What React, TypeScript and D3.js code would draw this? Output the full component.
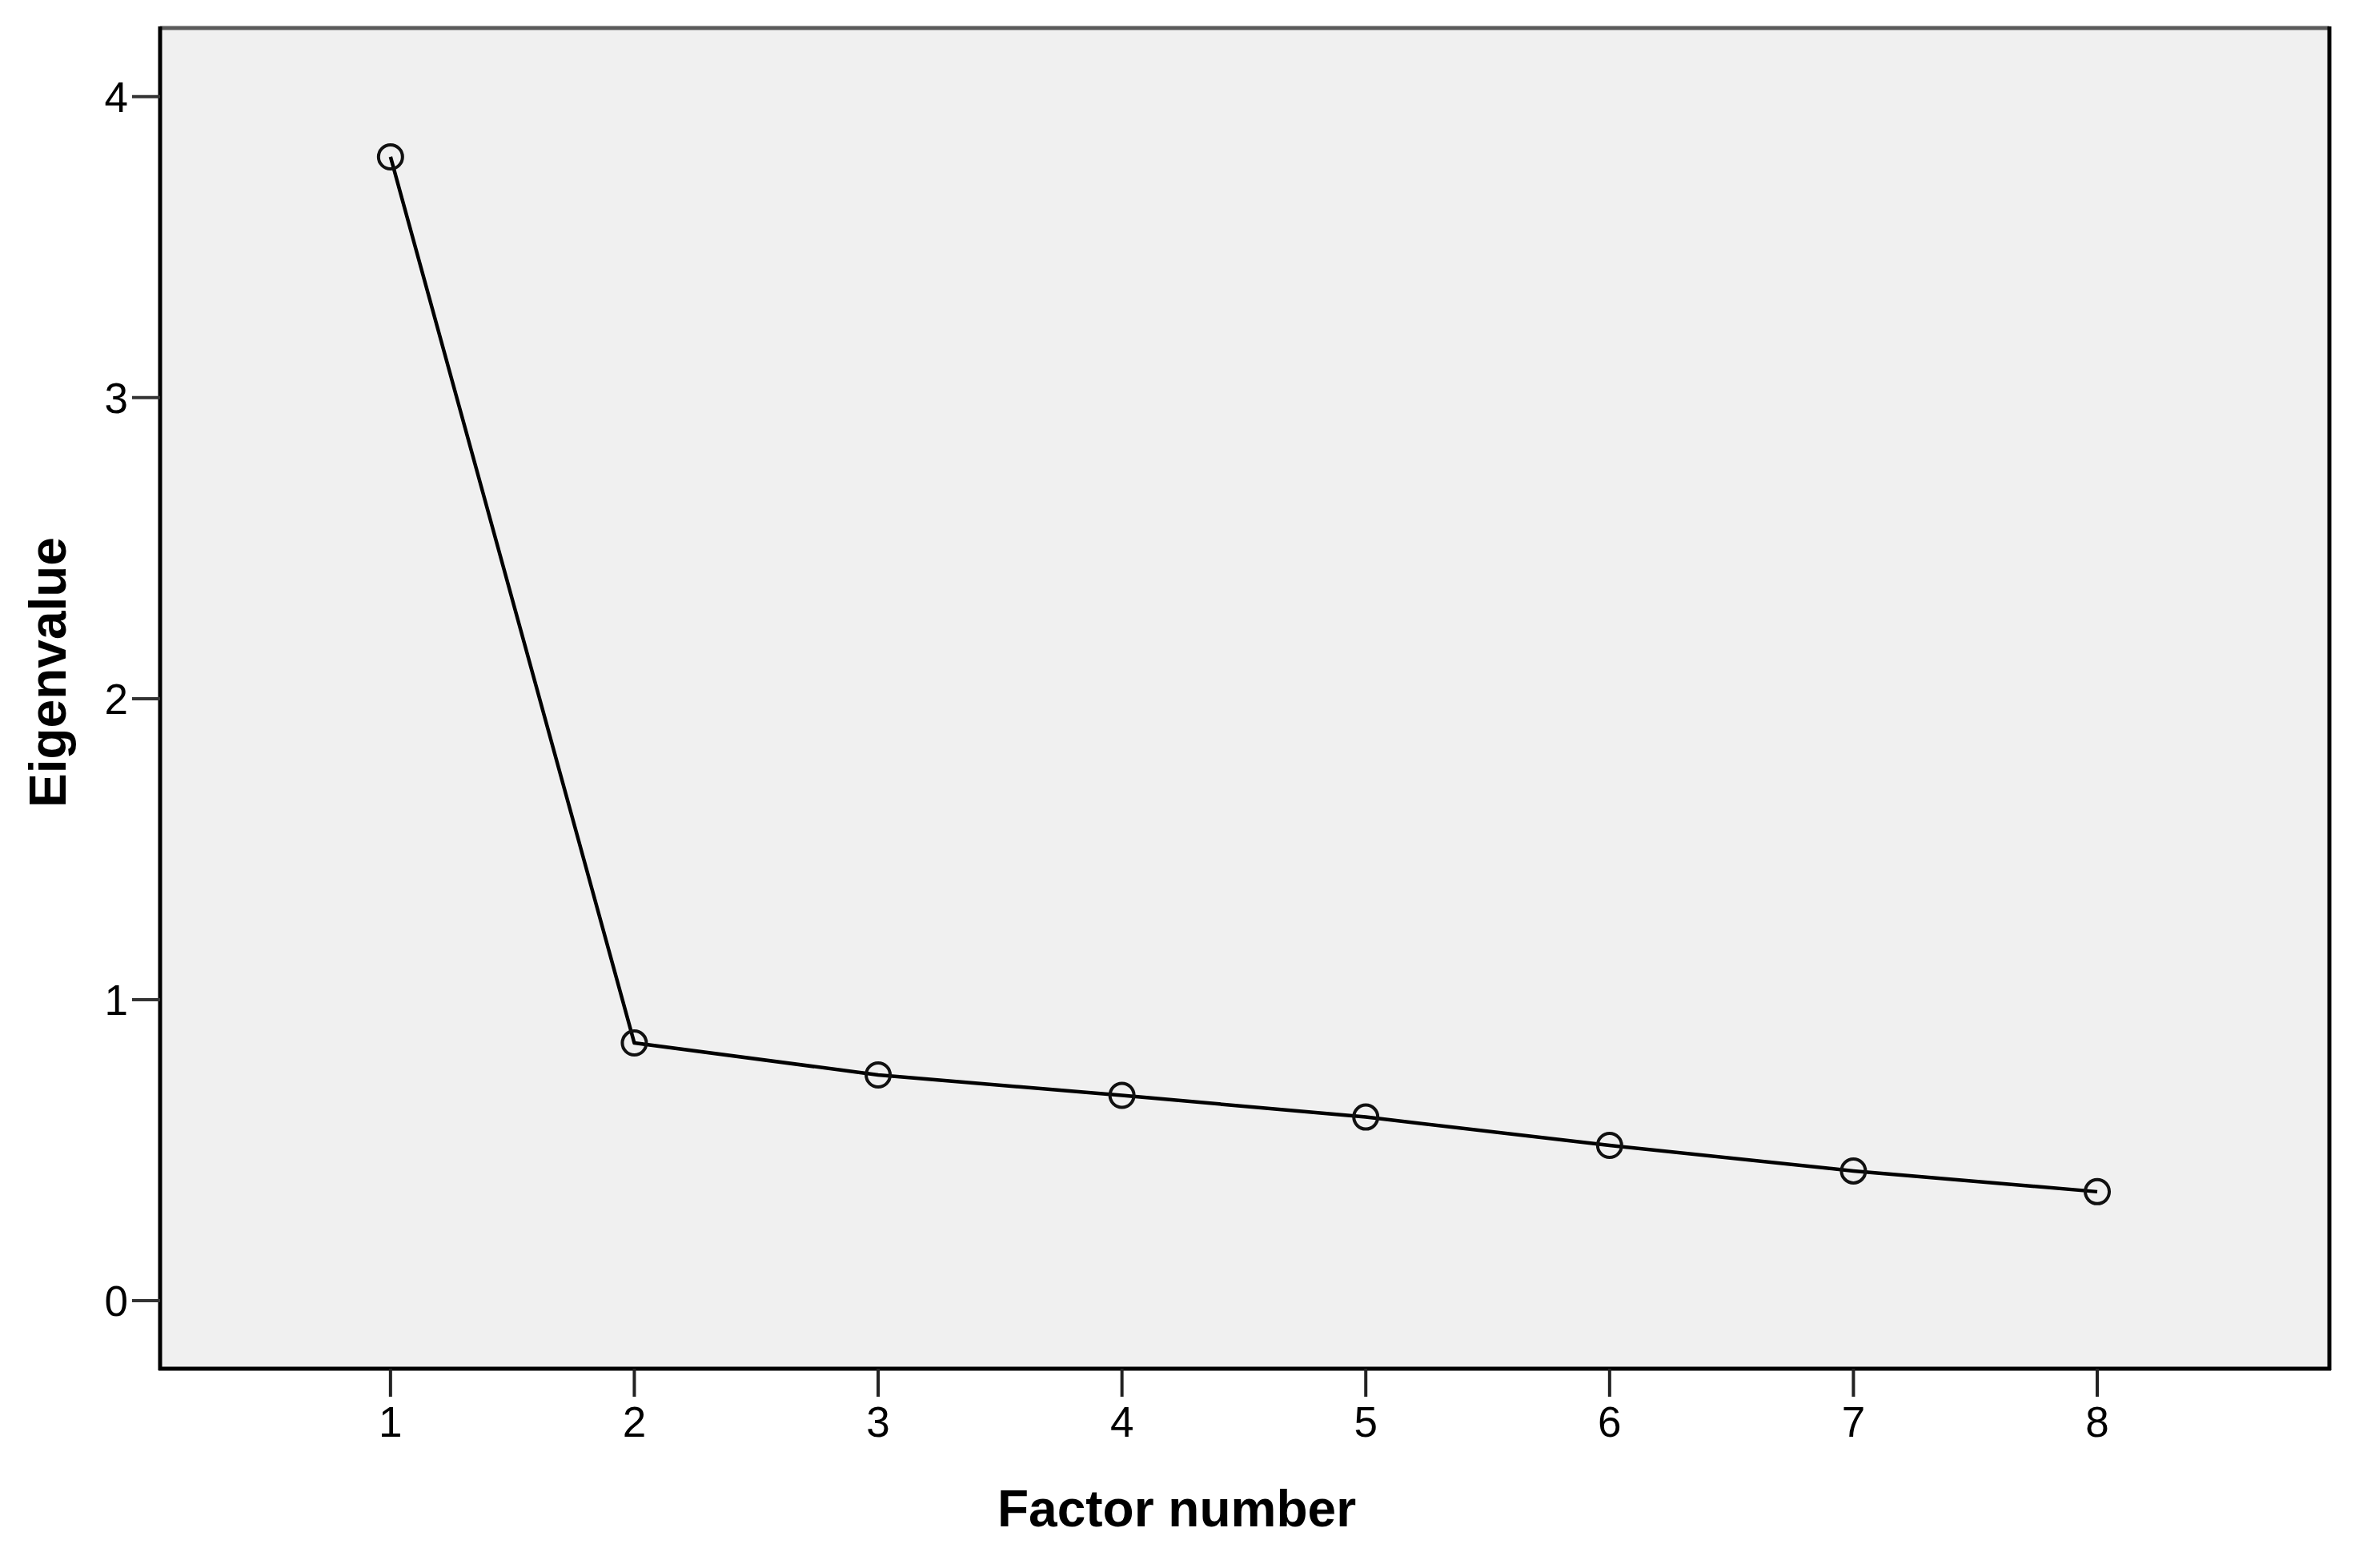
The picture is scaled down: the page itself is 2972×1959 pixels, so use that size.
import React from "react";
import * as d3 from "d3";

const factors = [1, 2, 3, 4, 5, 6, 7, 8];
const eigenvalues = [3.8, 0.856, 0.75, 0.682, 0.61, 0.516, 0.431, 0.362];
const yTicks = [0, 1, 2, 3, 4];
const xTicks = [1, 2, 3, 4, 5, 6, 7, 8];
const xTitle = "Factor number";
const yTitle = "Eigenvalue";

const W = 2972;
const H = 1959;
const L = 200, R = 2910, T = 35, B = 1710;

export default function App() {
  const x = d3.scaleLinear().domain([0.055, 8.952]).range([L, R]);
  const y = d3.scaleLinear().domain([-0.226, 4.228]).range([B, T]);
  const pts = factors.map((f, i) => [x(f), y(eigenvalues[i])] as [number, number]);
  const line = d3.line()(pts) || "";
  const font = "'Liberation Sans', Arial, sans-serif";
  return (
    <svg width={W} height={H} style={{ position: "absolute", left: 0, top: 0, background: "#fff" }}>
      <rect x={L} y={T} width={R - L} height={B - T} fill="#f0f0f0" />
      <path d={line} fill="none" stroke="#000" strokeWidth={4.5} strokeLinejoin="round" />
      {pts.map((p, i) => (
        <circle key={i} cx={p[0]} cy={p[1]} r={15} fill="none" stroke="#111" strokeWidth={4} />
      ))}
      {/* frame */}
      <line x1={L} y1={T} x2={R} y2={T} stroke="#5a5a5a" strokeWidth={5} />
      <line x1={L} y1={T - 2} x2={L} y2={B + 2} stroke="#000" strokeWidth={5} />
      <line x1={R} y1={T - 2} x2={R} y2={B + 2} stroke="#000" strokeWidth={5} />
      <line x1={L - 2} y1={B} x2={R + 2} y2={B} stroke="#000" strokeWidth={5} />
      {yTicks.map((t) => (
        <g key={"y" + t}>
          <line x1={165} x2={L} y1={y(t)} y2={y(t)} stroke="#333" strokeWidth={4} />
          <text x={160} y={y(t)} dy="0.36em" textAnchor="end" fontFamily={font} fontSize={53} fill="#000">
            {t}
          </text>
        </g>
      ))}
      {xTicks.map((t) => (
        <g key={"x" + t}>
          <line x1={x(t)} x2={x(t)} y1={B} y2={1745} stroke="#222" strokeWidth={4} />
          <text x={x(t)} y={1795} textAnchor="middle" fontFamily={font} fontSize={53} fill="#000">
            {t}
          </text>
        </g>
      ))}
      <text x={1470} y={1907} textAnchor="middle" fontFamily={font} fontWeight="bold" fontSize={64} fill="#000">
        {xTitle}
      </text>
      <text
        transform={`translate(82, 840) rotate(-90)`}
        textAnchor="middle"
        fontFamily={font}
        fontWeight="bold"
        fontSize={64}
        fill="#000"
      >
        {yTitle}
      </text>
    </svg>
  );
}
